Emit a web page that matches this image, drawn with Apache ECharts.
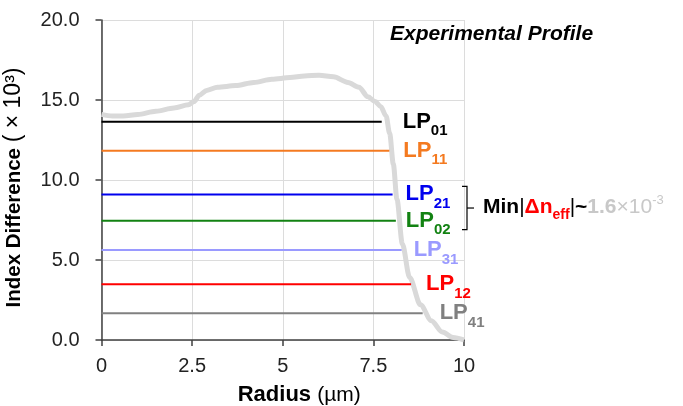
<!DOCTYPE html>
<html>
<head>
<meta charset="utf-8">
<script src="https://cdn.jsdelivr.net/npm/echarts@6/dist/echarts.min.js"></script>
<style>
  html, body { margin: 0; padding: 0; background: #ffffff; }
  #chart { width: 683px; height: 406px; }
</style>
</head>
<body>
<div id="chart"></div>
<script>
// Measured refractive index profile (radius in µm, index difference ×10³)
const profileRadius = [0, 0.3, 0.6, 1.0, 1.5, 2.0, 2.4, 2.55, 2.7, 2.9, 3.2, 3.7, 4.2, 4.7, 5.2, 5.6, 6.0, 6.4, 6.8, 7.1, 7.35, 7.55, 7.7, 7.85, 7.95, 8.05, 8.15, 8.3, 8.5, 8.8, 9.1, 9.4, 9.7, 10.0];
const profileIndex  = [14.1, 14.0, 14.0, 14.1, 14.3, 14.5, 14.7, 14.9, 15.3, 15.6, 15.8, 15.9, 16.1, 16.3, 16.4, 16.5, 16.55, 16.45, 16.1, 15.8, 15.2, 14.9, 14.6, 14.0, 12.9, 11.0, 8.8, 6.0, 3.9, 2.2, 1.2, 0.5, 0.15, 0.0];

// Guided modes: effective index (×10³) and the radius where each line stops
const modeNames = ['01', '11', '21', '02', '31', '12', '41'];
const modeIndex = [13.64, 11.83, 9.10, 7.46, 5.63, 3.48, 1.67];
const modeEnd   = [7.73, 7.94, 8.03, 8.12, 8.28, 8.54, 8.86];

const xTicks = ['0', '2.5', '5', '7.5', '10'];

const modeColors = ['#000000', '#f47a20', '#0000ee', '#128212', '#9a9aff', '#ff0000', '#808080'];
const labelGap = [21, 14, 13, 10, 12, 15, 17];

const FONT = 'Liberation Sans, Arial, sans-serif';

const chart = echarts.init(document.getElementById('chart'), null, { renderer: 'canvas' });

const profileData = profileRadius.map((r, i) => [r, profileIndex[i]]);

const series = [{
  type: 'line',
  name: 'profile',
  data: profileData,
  showSymbol: false,
  smooth: 0.3,
  smoothMonotone: 'x',
  lineStyle: { color: '#d9d9d9', width: 5 },
  z: 1,
  silent: true
}];

modeNames.forEach((m, i) => {
  const c = modeColors[i];
  series.push({
    type: 'line',
    name: 'LP' + m,
    data: [[0, modeIndex[i]], [modeEnd[i], modeIndex[i]]],
    showSymbol: false,
    lineStyle: { color: c, width: 2 },
    z: 3,
    silent: true,
    endLabel: {
      show: true,
      distance: labelGap[i],
      offset: [0, 6],
      formatter: '{a|LP}{b|' + m + '}',
      rich: {
        a: { fontFamily: FONT, fontWeight: 'bold', fontSize: 22, lineHeight: 22, color: c, verticalAlign: 'bottom', padding: [0, 0, 6, 0] },
        b: { fontFamily: FONT, fontWeight: 'bold', fontSize: 15, lineHeight: 15, color: c, verticalAlign: 'bottom' }
      }
    }
  });
});

chart.setOption({
  animation: false,
  backgroundColor: '#ffffff',
  grid: { left: 101.5, right: 219, top: 20, bottom: 66, containLabel: false, outerBoundsMode: 'none' },
  xAxis: {
    type: 'value',
    min: 0, max: 10, interval: 2.5,
    name: '{b|Radius }{n|(µm)}',
    nameLocation: 'middle',
    nameGap: 44,
    nameTextStyle: {
      padding: [0, 0, 0, 33],
      rich: {
        b: { fontFamily: FONT, fontWeight: 'bold', fontSize: 22, color: '#000' },
        n: { fontFamily: FONT, fontSize: 21, color: '#000' }
      }
    },
    axisLine: { show: true, lineStyle: { color: '#404040', width: 1.5 } },
    axisTick: { show: true, length: 6, lineStyle: { color: '#404040', width: 1.5 } },
    axisLabel: {
      fontFamily: FONT, fontSize: 20, color: '#222', margin: 16,
      formatter: v => xTicks[Math.round(v / 2.5)]
    },
    splitLine: { show: true, lineStyle: { color: '#dcdcdc', width: 1 } }
  },
  yAxis: {
    type: 'value',
    min: 0, max: 20, interval: 5,
    name: '{b|Index Difference }{n|( × 10³)}',
    nameLocation: 'middle',
    nameRotate: 90,
    nameGap: 76,
    nameTextStyle: {
      padding: [0, 15, 0, 0],
      rich: {
        b: { fontFamily: FONT, fontWeight: 'bold', fontSize: 20.5, color: '#000' },
        n: { fontFamily: FONT, fontSize: 23, color: '#000' }
      }
    },
    axisLine: { show: true, lineStyle: { color: '#404040', width: 1.5 } },
    axisTick: { show: true, length: 6, lineStyle: { color: '#404040', width: 1.5 } },
    axisLabel: {
      fontFamily: FONT, fontSize: 20, color: '#222', margin: 22,
      formatter: v => v.toFixed(1)
    },
    splitLine: { show: true, lineStyle: { color: '#dcdcdc', width: 1 } }
  },
  series: series
});

// Annotation: bracket spanning LP21 / LP02 and the minimum spacing note
const yTop = chart.convertToPixel({ gridIndex: 0 }, [0, modeIndex[2]])[1] - 8;
const yBot = chart.convertToPixel({ gridIndex: 0 }, [0, modeIndex[3]])[1] + 9;
const yMid = (yTop + yBot) / 2;
const bx = 467;

chart.setOption({
  graphic: [
    {
      type: 'text', left: 390, top: 24,
      style: { text: 'Experimental Profile', font: 'italic bold 21px ' + FONT, fill: '#000' }
    },
    {
      type: 'polyline',
      shape: { points: [[bx - 5, yTop], [bx, yTop], [bx, yBot], [bx - 5, yBot]] },
      style: { stroke: '#000', lineWidth: 1.2, fill: null }
    },
    {
      type: 'line',
      shape: { x1: bx, y1: yMid, x2: bx + 7, y2: yMid },
      style: { stroke: '#000', lineWidth: 1.2 }
    },
    {
      type: 'text', x: 483, y: yMid + 4,
      style: {
        text: '{m|Min}{p||}{d|Δn}{s|eff}{p||}{t|~}{g|1.6}{x|×10}{e|-3}',
        verticalAlign: 'middle',
        rich: {
          m: { fontFamily: FONT, fontWeight: 'bold', fontSize: 21, lineHeight: 21, fill: '#000', verticalAlign: 'bottom', padding: [0, 0, 5, 0] },
          p: { fontFamily: FONT, fontSize: 21, lineHeight: 21, fill: '#000', verticalAlign: 'bottom', padding: [0, 0, 5, 0] },
          d: { fontFamily: FONT, fontWeight: 'bold', fontSize: 21, lineHeight: 21, fill: '#ff0000', verticalAlign: 'bottom', padding: [0, 0, 5, 0] },
          s: { fontFamily: FONT, fontWeight: 'bold', fontSize: 14, lineHeight: 14, fill: '#ff0000', verticalAlign: 'bottom' },
          t: { fontFamily: FONT, fontWeight: 'bold', fontSize: 21, lineHeight: 21, fill: '#000', verticalAlign: 'bottom', padding: [0, 0, 5, 0] },
          g: { fontFamily: FONT, fontWeight: 'bold', fontSize: 21, lineHeight: 21, fill: '#c8c8c8', verticalAlign: 'bottom', padding: [0, 0, 5, 0] },
          x: { fontFamily: FONT, fontSize: 21, lineHeight: 21, fill: '#c8c8c8', verticalAlign: 'bottom', padding: [0, 0, 5, 0] },
          e: { fontFamily: FONT, fontSize: 13, lineHeight: 13, fill: '#c8c8c8', verticalAlign: 'bottom', padding: [0, 0, 16, 0] }
        }
      }
    }
  ]
});
</script>
</body>
</html>
